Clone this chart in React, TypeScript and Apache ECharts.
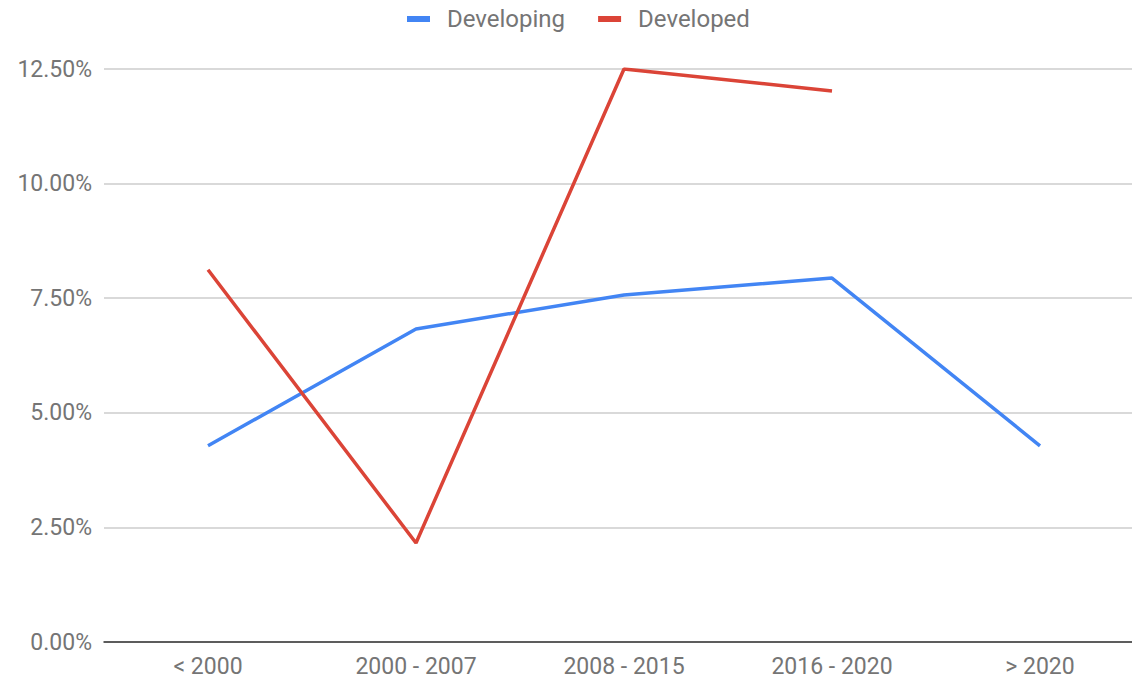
import React, { useEffect, useRef } from "react";
import * as echarts from "echarts";

const categories = ["< 2000", "2000 - 2007", "2008 - 2015", "2016 - 2020", "> 2020"];
const developing = [4.28, 6.83, 7.57, 7.94, 4.28];
const developed: (number | null)[] = [8.12, 2.16, 12.5, 12.02, null];

export default function App() {
  const ref = useRef<HTMLDivElement>(null);
  useEffect(() => {
    document.body.style.margin = "0";
    document.body.style.overflow = "hidden";
    document.documentElement.style.overflow = "hidden";
    const chart = echarts.init(ref.current!, undefined, { renderer: "svg" });
    chart.setOption({
      animation: false,
      textStyle: { fontFamily: "Roboto" },
      legend: {
        top: 7,
        left: 407,
        padding: 0,
        itemWidth: 23,
        itemHeight: 6,
        itemGap: 33,
        icon: "rect",
        textStyle: {
          fontSize: 24,
          color: "#757575",
          fontFamily: "Roboto",
          padding: [0, 0, 0, 12],
        },
        data: ["Developing", "Developed"],
      },
      grid: { left: 104, right: 0, top: 69, bottom: 38, containLabel: false },
      xAxis: {
        type: "category",
        data: categories,
        boundaryGap: true,
        axisLine: { lineStyle: { color: "#333333", width: 1.5 } },
        axisTick: { show: false },
        axisLabel: { fontSize: 23, color: "#757575", margin: 13, fontFamily: "Roboto" },
      },
      yAxis: {
        type: "value",
        min: 0,
        max: 12.5,
        interval: 2.5,
        axisLine: { show: false },
        axisTick: { show: false },
        splitLine: { lineStyle: { color: "#cccccc", width: 1.5 } },
        axisLabel: {
          fontSize: 23,
          color: "#757575",
          margin: 12,
          fontFamily: "Roboto",
          formatter: (v: number) => v.toFixed(2) + "%",
        },
      },
      series: [
        {
          name: "Developing",
          type: "line",
          data: developing,
          symbol: "none",
          lineStyle: { color: "#4285F4", width: 3.5 },
          itemStyle: { color: "#4285F4" },
        },
        {
          name: "Developed",
          type: "line",
          data: developed,
          symbol: "none",
          lineStyle: { color: "#DB4437", width: 3.5 },
          itemStyle: { color: "#DB4437" },
        },
      ],
    });
    return () => chart.dispose();
  }, []);
  return (
    <div
      ref={ref}
      style={{ position: "absolute", left: 0, top: 0, width: 1144, height: 680 }}
    />
  );
}
